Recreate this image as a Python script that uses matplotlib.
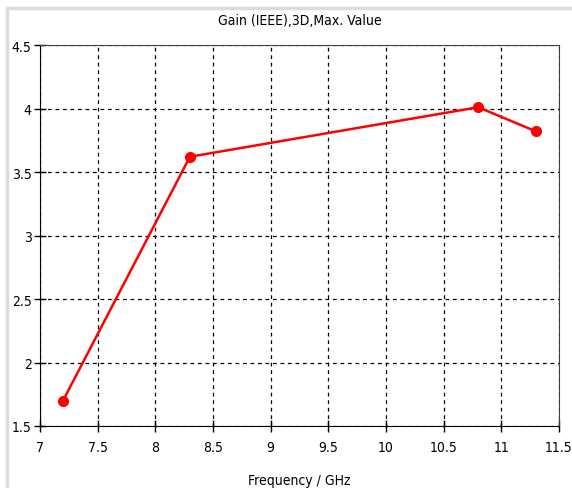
import matplotlib.pyplot as plt
from matplotlib.patches import Rectangle

# Max gain vs frequency
freq = [7.2, 8.3, 10.8, 11.3]
gain = [1.70, 3.62, 4.01, 3.82]

x_ticks = [7, 7.5, 8, 8.5, 9, 9.5, 10, 10.5, 11, 11.5]
x_labels = ['7', '7.5', '8', '8.5', '9', '9.5', '10', '10.5', '11', '11.5']
y_ticks = [1.5, 2, 2.5, 3, 3.5, 4, 4.5]
y_labels = ['1.5', '2', '2.5', '3', '3.5', '4', '4.5']

plt.rcParams['font.family'] = ['DejaVu Sans']
plt.rcParams['font.stretch'] = 'condensed'

W, H = 572, 489
fig = plt.figure(figsize=(W / 100, H / 100), dpi=100)
fig.patches.append(Rectangle((7 / W, -0.1), 1.2, 1.1 - 9 / H, transform=fig.transFigure,
                             fill=False, edgecolor='#dcdcdc', linewidth=2.5))

ax = fig.add_axes([40 / W, 1 - 427 / H, (559 - 40) / W, (427 - 46) / H])
ax.plot(freq, gain, color='#ff0000', linewidth=1.8, marker='o', markersize=7,
        markerfacecolor='#ff0000', markeredgecolor='#ff0000')

ax.set_xlim(7, 11.5)
ax.set_ylim(1.5, 4.5)
ax.set_xticks(x_ticks)
ax.set_xticklabels(x_labels)
ax.set_yticks(y_ticks)
ax.set_yticklabels(y_labels)
ax.tick_params(direction='inout', length=8, width=1, labelsize=10, pad=6)
ax.tick_params(axis='y', pad=2)
ax.grid(True, color='black', linestyle=(0, (3, 3)), linewidth=0.9)

for side in ['left', 'bottom']:
    ax.spines[side].set_color('black')
for side in ['top', 'right']:
    ax.spines[side].set_color('#404040')

ax.set_title('Gain (IEEE),3D,Max. Value', fontsize=10, pad=15)
ax.set_xlabel('Frequency / GHz', fontsize=10, labelpad=14)

fig.savefig('out.png', dpi=100)
